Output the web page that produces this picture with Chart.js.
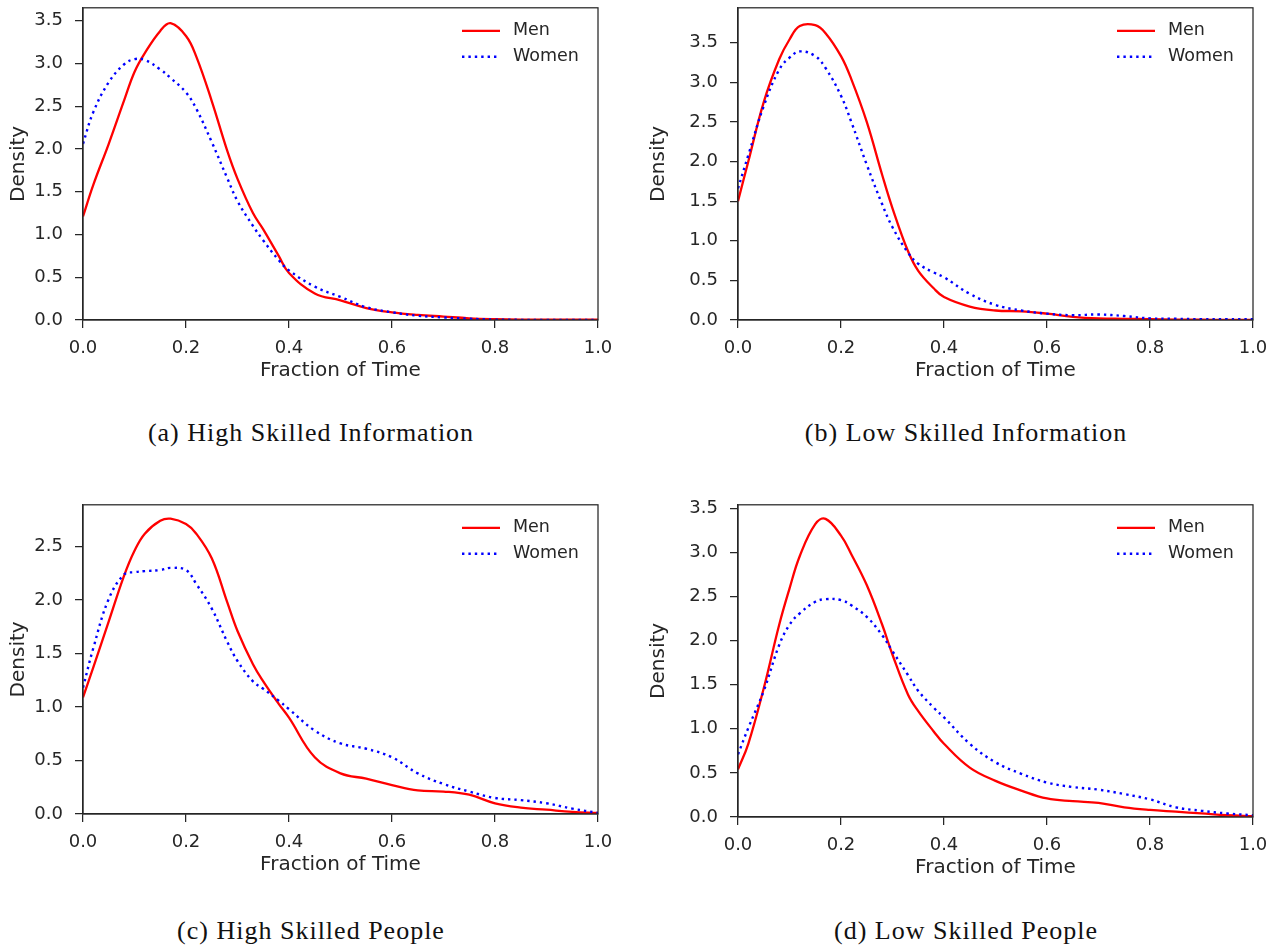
<!DOCTYPE html>
<html>
<head>
<meta charset="utf-8">
<script src="https://cdn.jsdelivr.net/npm/chart.js@4.4.0/dist/chart.umd.min.js"></script>
<style>
  body { margin: 0; background: #fff; }
  #page { position: relative; width: 1282px; height: 949px; overflow: hidden; }
  #page canvas { position: absolute; }
  .caption {
    position: absolute;
    font-family: "Liberation Serif", serif;
    font-size: 26px;
    letter-spacing: 1px;
    line-height: 30px;
    color: #111;
    white-space: nowrap;
    transform: translateX(-50%);
  }
</style>
</head>
<body>
<div id="page">
  <canvas id="highInfo" width="640" height="415" style="left:0px; top:-15px;"></canvas>
  <canvas id="lowInfo" width="642" height="415" style="left:640px; top:-15px;"></canvas>
  <canvas id="highPeople" width="640" height="412" style="left:0px; top:482px;"></canvas>
  <canvas id="lowPeople" width="642" height="415" style="left:640px; top:482px;"></canvas>
  <div class="caption" style="left:311px; top:418px;">(a) High Skilled Information</div>
  <div class="caption" style="left:966px; top:418px;">(b) Low Skilled Information</div>
  <div class="caption" style="left:311px; top:916px;">(c) High Skilled People</div>
  <div class="caption" style="left:966px; top:916px;">(d) Low Skilled People</div>
</div>
<script>
// x positions the densities were read at
var fraction = [0, 0.02, 0.05, 0.08, 0.1, 0.12, 0.15, 0.17, 0.2, 0.22, 0.25, 0.28, 0.3, 0.33, 0.35, 0.38, 0.4, 0.45, 0.5, 0.55, 0.6, 0.65, 0.7, 0.75, 0.8, 0.85, 0.9, 0.95, 1.0];
var xTicks = [0, 0.2, 0.4, 0.6, 0.8, 1.0];
var densityTicks = [0, 0.5, 1.0, 1.5, 2.0, 2.5, 3.0, 3.5];

var menHighInfo = [1.21, 1.58, 2.06, 2.57, 2.90, 3.12, 3.38, 3.47, 3.32, 3.08, 2.56, 1.98, 1.65, 1.25, 1.06, 0.75, 0.55, 0.31, 0.23, 0.14, 0.09, 0.06, 0.04, 0.02, 0.01, 0.005, 0.005, 0.005, 0.005];
var womenHighInfo = [2.06, 2.43, 2.78, 2.99, 3.05, 3.04, 2.93, 2.83, 2.66, 2.47, 2.08, 1.66, 1.39, 1.10, 0.93, 0.70, 0.58, 0.39, 0.27, 0.15, 0.09, 0.05, 0.03, 0.015, 0.005, 0.002, 0, 0, 0];

var menLowInfo = [1.50, 2.00, 2.75, 3.29, 3.54, 3.71, 3.72, 3.62, 3.33, 3.04, 2.50, 1.83, 1.41, 0.87, 0.62, 0.40, 0.29, 0.17, 0.12, 0.11, 0.08, 0.04, 0.02, 0.015, 0.01, 0.005, 0.003, 0.002, 0.001];
var womenLowInfo = [1.66, 2.08, 2.70, 3.16, 3.31, 3.39, 3.33, 3.18, 2.83, 2.50, 1.96, 1.46, 1.17, 0.85, 0.71, 0.60, 0.54, 0.33, 0.19, 0.12, 0.08, 0.06, 0.07, 0.05, 0.02, 0.015, 0.01, 0.01, 0.01];

var menHighPeople = [1.09, 1.37, 1.80, 2.23, 2.46, 2.62, 2.74, 2.76, 2.71, 2.62, 2.39, 1.98, 1.71, 1.40, 1.24, 1.03, 0.90, 0.53, 0.38, 0.33, 0.27, 0.22, 0.21, 0.18, 0.10, 0.06, 0.04, 0.02, 0.01];
var womenHighPeople = [1.18, 1.55, 2.01, 2.24, 2.26, 2.27, 2.28, 2.30, 2.28, 2.15, 1.92, 1.61, 1.43, 1.24, 1.17, 1.06, 0.98, 0.78, 0.66, 0.61, 0.53, 0.38, 0.28, 0.21, 0.15, 0.13, 0.10, 0.05, 0.01];

var menLowPeople = [0.54, 0.83, 1.46, 2.18, 2.59, 2.96, 3.32, 3.38, 3.19, 2.98, 2.63, 2.18, 1.84, 1.39, 1.20, 0.97, 0.83, 0.56, 0.41, 0.30, 0.21, 0.18, 0.16, 0.11, 0.08, 0.06, 0.04, 0.02, 0.01];
var womenLowPeople = [0.71, 1.01, 1.43, 1.95, 2.18, 2.31, 2.44, 2.47, 2.46, 2.40, 2.27, 2.06, 1.88, 1.61, 1.43, 1.24, 1.13, 0.83, 0.62, 0.49, 0.39, 0.34, 0.31, 0.26, 0.20, 0.11, 0.07, 0.04, 0.02];

var ink = "#262626";
Chart.defaults.font.family = "'DejaVu Sans'";
Chart.defaults.color = ink;

// box around the plot + legend in the upper right corner
var framePlugin = {
  id: "frame",
  afterDatasetsDraw: function(chart) {
    var a = chart.chartArea, ctx = chart.ctx;
    ctx.save();
    ctx.strokeStyle = ink;
    ctx.lineWidth = 1.25;
    ctx.strokeRect(a.left, a.top, a.right - a.left, a.bottom - a.top);
    ctx.font = "17.5px 'DejaVu Sans'";
    ctx.textBaseline = "middle";
    chart.data.datasets.forEach(function(ds, i) {
      var y = a.top + 23 + i * 26;
      ctx.beginPath();
      ctx.setLineDash(ds.borderDash || []);
      ctx.strokeStyle = ds.borderColor;
      ctx.lineWidth = ds.borderWidth;
      ctx.moveTo(a.right - 136, y);
      ctx.lineTo(a.right - 98, y);
      ctx.stroke();
      ctx.setLineDash([]);
      ctx.fillStyle = ink;
      ctx.fillText(ds.label, a.right - 85, y);
    });
    ctx.restore();
  }
};

function points(ys) {
  return fraction.map(function(x, i) { return {x: x, y: ys[i]}; });
}

function createChart(id, men, women, yMax, axisWidth, rightPad) {
  var gridOpts = {display: true, drawOnChartArea: false, drawTicks: true, tickLength: 8, color: ink, lineWidth: 1.25};
  new Chart(id, {
    type: "line",
    data: {
      datasets: [{
        label: "Men",
        data: points(men),
        borderColor: "#ff0000",
        borderWidth: 2.3,
        pointRadius: 0,
        tension: 0.4,
        fill: false,
        order: 1
      }, {
        label: "Women",
        data: points(women),
        borderColor: "#0000ff",
        borderWidth: 2.4,
        borderDash: [2.4, 4],
        borderCapStyle: "butt",
        pointRadius: 0,
        tension: 0.4,
        fill: false,
        order: 0
      }]
    },
    options: {
      responsive: false,
      animation: false,
      layout: {padding: {left: 0, top: 20, right: rightPad, bottom: 0}},
      plugins: {legend: {display: false}, tooltip: {enabled: false}},
      scales: {
        x: {
          type: "linear",
          min: 0,
          max: 1,
          afterBuildTicks: function(scale) {
            scale.ticks = xTicks.map(function(v) { return {value: v}; });
          },
          afterFit: function(scale) { scale.height = 80; },
          ticks: {
            font: {size: 18},
            padding: 10,
            maxRotation: 0,
            callback: function(v) { return v.toFixed(1); }
          },
          grid: gridOpts,
          border: {display: true, color: ink, width: 1.25},
          title: {display: true, text: "Fraction of Time", font: {size: 20}, padding: {top: 0, bottom: 17}}
        },
        y: {
          min: 0,
          max: yMax,
          afterBuildTicks: function(scale) {
            scale.ticks = densityTicks.filter(function(v) { return v <= yMax; })
              .map(function(v) { return {value: v}; });
          },
          afterFit: function(scale) { scale.width = axisWidth; },
          ticks: {
            font: {size: 18},
            padding: 12,
            callback: function(v) { return v.toFixed(1); }
          },
          grid: gridOpts,
          border: {display: true, color: ink, width: 1.25},
          title: {display: true, text: "Density", font: {size: 20}, padding: {top: 7, bottom: 0}}
        }
      }
    },
    plugins: [framePlugin]
  });
}

createChart("highInfo", menHighInfo, womenHighInfo, 3.65, 83, 42);
createChart("lowInfo", menLowInfo, womenLowInfo, 3.94, 98, 29);
createChart("highPeople", menHighPeople, womenHighPeople, 2.89, 83, 42);
createChart("lowPeople", menLowPeople, womenLowPeople, 3.54, 98, 29);
</script>
</body>
</html>
